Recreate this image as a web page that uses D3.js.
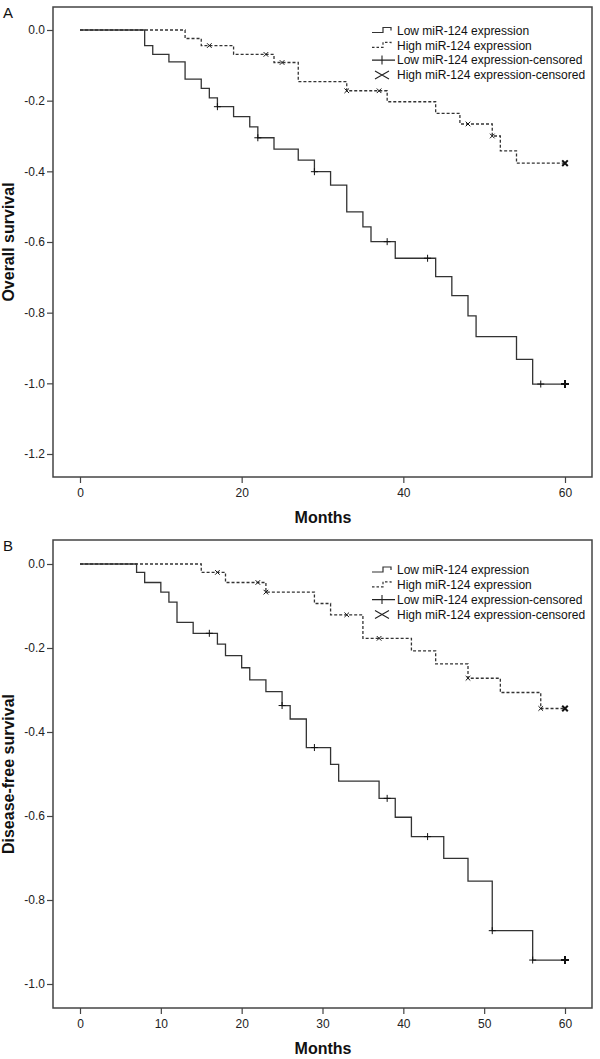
<!DOCTYPE html>
<html>
<head>
<meta charset="utf-8">
<script src="https://cdn.jsdelivr.net/npm/d3@7"></script>
<style>
  body { margin: 0; background: #fff; }
  svg { display: block; font-family: "Liberation Sans", Arial, sans-serif; }
</style>
</head>
<body>
<svg width="600" height="1059"></svg>
<script>
// Panel A: overall survival, step times (months) and values
var aLowTime  = [0, 8, 9, 11, 13, 15, 16, 17, 19, 21, 22, 24, 27, 29, 31, 33, 35, 36, 39, 44, 46, 48, 49, 54, 56, 60];
var aLowSurv  = [0, -0.044, -0.069, -0.090, -0.139, -0.165, -0.192, -0.217, -0.245, -0.274, -0.305, -0.337, -0.368,
                 -0.401, -0.439, -0.515, -0.557, -0.599, -0.646, -0.698, -0.752, -0.809, -0.868, -0.932, -1.002, -1.002];
var aLowCens  = [17, 22, 29, 38, 43, 57];
var aHighTime = [0, 13, 15, 19, 24, 27, 33, 38, 44, 47, 51, 52, 54, 60];
var aHighSurv = [0, -0.024, -0.044, -0.069, -0.092, -0.146, -0.172, -0.203, -0.236, -0.266, -0.300, -0.342, -0.377, -0.377];
var aHighCens = [16, 23, 25, 33, 37, 48, 51];
var aYTicks   = [0, -0.2, -0.4, -0.6, -0.8, -1.0, -1.2];
var aXTicks   = [0, 20, 40, 60];

// Panel B: disease-free survival
var bLowTime  = [0, 7, 8, 10, 11, 12, 14, 17, 18, 20, 21, 23, 25, 26, 28, 31, 32, 37, 39, 41, 45, 48, 51, 56, 60];
var bLowSurv  = [0, -0.020, -0.044, -0.067, -0.091, -0.139, -0.165, -0.191, -0.218, -0.247, -0.276, -0.304, -0.337,
                 -0.369, -0.437, -0.477, -0.517, -0.558, -0.603, -0.649, -0.701, -0.755, -0.873, -0.943, -0.943];
var bLowCens  = [16, 25, 29, 38, 43, 51, 56];
var bHighTime = [0, 15, 18, 23, 29, 31, 35, 41, 44, 48, 52, 57, 60];
var bHighSurv = [0, -0.020, -0.044, -0.067, -0.094, -0.121, -0.177, -0.207, -0.238, -0.272, -0.306, -0.344, -0.344];
var bHighCens = [17, 22, 23, 33, 37, 48, 57];
var bYTicks   = [0, -0.2, -0.4, -0.6, -0.8, -1.0];
var bXTicks   = [0, 10, 20, 30, 40, 50, 60];

var lastTime = 60;
var legendLabels = ["Low miR-124 expression", "High miR-124 expression",
                    "Low miR-124 expression-censored", "High miR-124 expression-censored"];

var svg = d3.select("svg");
var lineColor = "#333";

// value of the step curve at time t
function stepValue(times, vals, t) {
  var v = vals[0];
  for (var i = 0; i < times.length; i++) { if (times[i] <= t) v = vals[i]; }
  return v;
}

function plusMark(g, x, y, r, w) {
  g.append("path").attr("d", "M" + (x - r) + "," + y + "H" + (x + r) + "M" + x + "," + (y - r) + "V" + (y + r))
    .attr("stroke", "#111").attr("stroke-width", w).attr("fill", "none");
}
function crossMark(g, x, y, r, w) {
  g.append("path").attr("d", "M" + (x - r) + "," + (y - r) + "L" + (x + r) + "," + (y + r) +
                             "M" + (x - r) + "," + (y + r) + "L" + (x + r) + "," + (y - r))
    .attr("stroke", "#111").attr("stroke-width", w).attr("fill", "none");
}

function drawPanel(p) {
  var g = svg.append("g");
  var x = d3.scaleLinear().domain([0, 60]).range([80, 565]);
  var y = d3.scaleLinear().domain([0, p.yLow]).range([p.y0, p.yLowPx]);

  // frame
  g.append("rect").attr("x", 53).attr("y", p.top).attr("width", 592 - 53).attr("height", p.bottom - p.top)
    .attr("fill", "none").attr("stroke", "#444").attr("stroke-width", 1.5);

  // axes
  var yAxis = g.append("g").attr("transform", "translate(53,0)")
    .call(d3.axisLeft(y).tickValues(p.yTicks).tickSize(6).tickPadding(2)
          .tickFormat(function(d) { return d.toFixed(1); }));
  var xAxis = g.append("g").attr("transform", "translate(0," + p.bottom + ")")
    .call(d3.axisBottom(x).tickValues(p.xTicks).tickSize(6).tickPadding(5));
  [yAxis, xAxis].forEach(function(a) {
    a.select(".domain").remove();
    a.selectAll("line").attr("stroke", "#444").attr("stroke-width", 1.2);
    a.selectAll("text").attr("fill", "#222").style("font-size", "12px")
      .style("font-family", "'Liberation Sans', Arial, sans-serif");
  });

  var line = d3.line().curve(d3.curveStepAfter)
    .x(function(d) { return x(d[0]); })
    .y(function(d) { return y(d[1]); });

  var low = p.lowTime.map(function(t, i) { return [t, p.lowSurv[i]]; });
  var high = p.highTime.map(function(t, i) { return [t, p.highSurv[i]]; });

  g.append("path").datum(low).attr("d", line).attr("fill", "none")
    .attr("stroke", lineColor).attr("stroke-width", 1.3);
  g.append("path").datum(high).attr("d", line).attr("fill", "none")
    .attr("stroke", lineColor).attr("stroke-width", 1.3).attr("stroke-dasharray", "3,2");

  // censor marks
  p.lowCens.forEach(function(t) { plusMark(g, x(t), y(stepValue(p.lowTime, p.lowSurv, t)), 3.5, 1); });
  p.highCens.forEach(function(t) { crossMark(g, x(t), y(stepValue(p.highTime, p.highSurv, t)), 2.3, 1); });
  plusMark(g, x(lastTime), y(stepValue(p.lowTime, p.lowSurv, lastTime)), 4, 2);
  crossMark(g, x(lastTime), y(stepValue(p.highTime, p.highSurv, lastTime)), 2.8, 2);

  // labels
  g.append("text").attr("x", 3).attr("y", p.top + 11).style("font-size", "15px").attr("fill", "#111").text(p.letter);
  g.append("text").attr("x", 323).attr("y", p.bottom + 46).attr("text-anchor", "middle")
    .style("font-size", "16px").style("font-weight", "bold").attr("fill", "#111").text("Months");
  g.append("text").attr("transform", "translate(14," + ((p.top + p.bottom) / 2) + ") rotate(-90)")
    .attr("text-anchor", "middle").style("font-size", "16px").style("font-weight", "bold")
    .attr("fill", "#111").text(p.yLabel);

  // legend
  var lx = 372, ly = p.legendY;
  legendLabels.forEach(function(lab, i) {
    var yy = ly + i * 14.8;
    if (i < 2) {
      g.append("path").attr("d", "M" + lx + "," + (yy + 2) + "H" + (lx + 11) + "V" + (yy - 3) + "H" + (lx + 19) + "V" + yy)
        .attr("fill", "none").attr("stroke", lineColor).attr("stroke-width", 1.2)
        .attr("stroke-dasharray", i == 1 ? "2.5,2" : null);
    } else if (i == 2) {
      g.append("path").attr("d", "M" + lx + "," + yy + "H" + (lx + 23) + "M" + (lx + 10) + "," + (yy - 4.5) + "V" + (yy + 4.5))
        .attr("stroke", "#222").attr("stroke-width", 1.1).attr("fill", "none");
    } else {
      g.append("path").attr("d", "M" + (lx + 3) + "," + (yy - 4) + "L" + (lx + 17) + "," + (yy + 4) +
                                 "M" + (lx + 3) + "," + (yy + 4) + "L" + (lx + 17) + "," + (yy - 4))
        .attr("stroke", "#222").attr("stroke-width", 1.1).attr("fill", "none");
    }
    g.append("text").attr("x", lx + 25).attr("y", yy).attr("dy", "0.35em")
      .style("font-size", "12px").attr("fill", "#111").text(lab);
  });
}

drawPanel({letter: "A", top: 7, bottom: 477, y0: 30, yLow: -1.2, yLowPx: 454,
           yTicks: aYTicks, xTicks: aXTicks, yLabel: "Overall survival", legendY: 30.5,
           lowTime: aLowTime, lowSurv: aLowSurv, lowCens: aLowCens,
           highTime: aHighTime, highSurv: aHighSurv, highCens: aHighCens});
drawPanel({letter: "B", top: 540, bottom: 1008, y0: 564, yLow: -1.0, yLowPx: 984,
           yTicks: bYTicks, xTicks: bXTicks, yLabel: "Disease-free survival", legendY: 570,
           lowTime: bLowTime, lowSurv: bLowSurv, lowCens: bLowCens,
           highTime: bHighTime, highSurv: bHighSurv, highCens: bHighCens});
</script>
</body>
</html>
